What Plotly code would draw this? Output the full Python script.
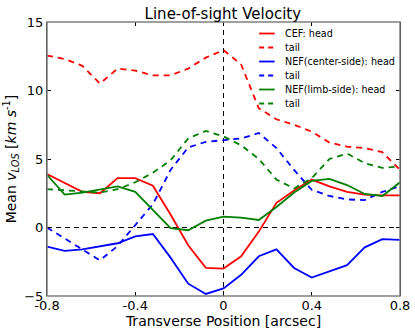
import plotly.graph_objects as go

# ── Data ─────────────────────────────────────────────────────────────────────
x_pos = [-0.8, -0.72, -0.64, -0.56, -0.48, -0.40, -0.32, -0.24, -0.16, -0.08, 0.0,
         0.08, 0.16, 0.24, 0.32, 0.40, 0.48, 0.56, 0.64, 0.72, 0.8]

cef_head = [3.9, 3.25, 2.6, 2.5, 3.6, 3.6, 3.05, 0.95, -1.3, -2.95, -3.0,
            -2.1, -0.3, 1.8, 2.7, 3.5, 3.0, 2.6, 2.4, 2.35, 2.35]
cef_tail = [12.55, 12.3, 11.8, 10.5, 11.6, 11.45, 11.1, 11.1, 11.6, 12.4, 12.95,
            11.9, 8.7, 7.9, 7.5, 7.0, 6.2, 5.9, 5.8, 5.5, 4.2]
nef_c_head = [-1.4, -1.7, -1.6, -1.4, -1.15, -0.65, -0.48, -2.2, -4.1, -4.85, -4.45,
              -3.45, -2.1, -1.6, -2.95, -3.65, -3.2, -2.75, -1.45, -0.85, -0.9]
nef_c_tail = [0.0, -0.8, -1.6, -2.4, -1.35, 0.2, 1.7, 4.2, 5.85, 6.25, 6.35,
              6.5, 6.9, 5.8, 4.2, 2.75, 2.3, 2.05, 2.0, 2.6, 3.0]
nef_l_head = [3.85, 2.4, 2.55, 2.75, 3.0, 2.6, 1.25, -0.05, -0.2, 0.5, 0.8,
              0.72, 0.55, 1.5, 2.55, 3.4, 3.55, 3.1, 2.45, 2.3, 3.3]
nef_l_tail = [2.8, 2.7, 2.6, 2.55, 2.8, 3.3, 4.0, 4.9, 6.5, 7.05, 6.65,
              6.0, 5.0, 3.5, 2.85, 3.6, 5.0, 5.4, 4.7, 4.35, 4.45]

x_ticks = [-0.8, -0.4, 0, 0.4, 0.8]
x_tick_text = ["-0.8", "-0.4", "0", "0.4", "0.8"]
y_ticks = [-5, 0, 5, 10, 15]

# ── Styling ──────────────────────────────────────────────────────────────────
_FONT = "DejaVu Sans, sans-serif"
_DASH = "6px,5px"

series = [
    ("CEF: head", cef_head, "#ff0000", "solid"),
    ("tail", cef_tail, "#ff0000", _DASH),
    ("NEF(center-side): head", nef_c_head, "#0000ff", "solid"),
    ("tail", nef_c_tail, "#0000ff", _DASH),
    ("NEF(limb-side): head", nef_l_head, "#008000", "solid"),
    ("tail", nef_l_tail, "#008000", _DASH),
]

fig = go.Figure()
for name, vals, color, dash in series:
    fig.add_trace(go.Scatter(
        x=x_pos, y=vals, mode="lines", name=name, showlegend=False,
        line=dict(color=color, width=1.8, dash=dash),
    ))

# zero reference lines
fig.add_hline(y=0, line=dict(color="black", width=1, dash="5px,4px"), layer="below")
fig.add_vline(x=0, line=dict(color="black", width=1, dash="5px,4px"), layer="below")

# axes frame
fig.add_shape(type="rect", xref="paper", yref="paper", x0=0, y0=0, x1=1, y1=1,
              line=dict(color="#808080", width=1.5))

# matplotlib-style legend (compact rows, no frame)
row0, row_step = 0.958, 0.0511
for i, (name, _, color, dash) in enumerate(series):
    yy = row0 - i * row_step
    fig.add_shape(type="line", xref="paper", yref="paper",
                  x0=0.601, x1=0.645, y0=yy, y1=yy,
                  line=dict(color=color, width=1.8, dash="5px,4px" if dash != "solid" else "solid"))
    fig.add_annotation(xref="paper", yref="paper", x=0.669, y=yy,
                       xanchor="left", yanchor="middle", showarrow=False,
                       text=name, font=dict(size=9.6))

fig.update_layout(
    width=415, height=335,
    margin=dict(l=47, r=15, t=22, b=39),
    paper_bgcolor="white", plot_bgcolor="white",
    font=dict(family=_FONT, color="black", size=13),
    title=dict(text="Line-of-sight Velocity", x=0.537, xanchor="center",
               y=0.958, yanchor="middle", font=dict(size=15)),
    showlegend=False,
    xaxis=dict(
        range=[-0.8, 0.8], tickvals=x_ticks, ticktext=x_tick_text,
        ticks="inside", ticklen=4, tickcolor="black", mirror="allticks",
        showgrid=False, zeroline=False, showline=False, automargin=False,
        tickfont=dict(size=13),
        title=dict(text="Transverse Position [arcsec]", font=dict(size=14), standoff=2),
    ),
    yaxis=dict(
        range=[-5, 15], tickvals=y_ticks,
        ticks="inside", ticklen=4, tickcolor="black", mirror="allticks",
        showgrid=False, zeroline=False, showline=True, linecolor="black", linewidth=1,
        automargin=False,
        tickfont=dict(size=13),
        title=dict(text="Mean <i>v</i><sub><i>LOS</i></sub> [<i>km s</i><sup>-1</sup>]",
                   font=dict(size=14), standoff=4),
    ),
)

# drop the browser's default page margin so the figure sits at the window origin
fig.write_html("out.html", config={"displayModeBar": False},
               post_script="document.body.style.margin='0';")
